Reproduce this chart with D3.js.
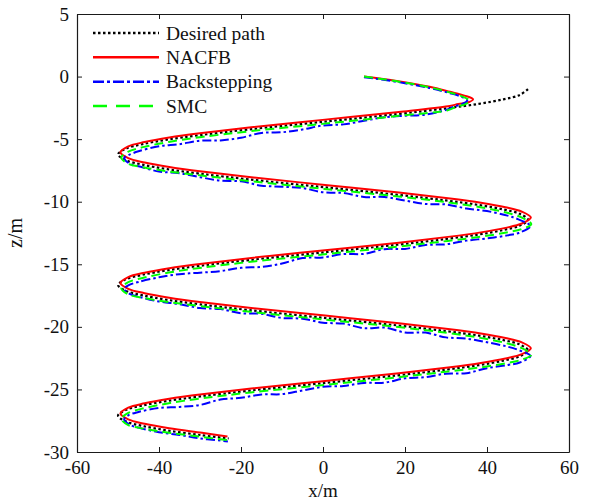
<!DOCTYPE html>
<html>
<head>
<meta charset="utf-8">
<script src="https://cdn.jsdelivr.net/npm/d3@7"></script>
<style>
  html, body { margin: 0; padding: 0; background: #fff; }
  svg { display: block; font-family: "Liberation Serif", "Times New Roman", serif; }
</style>
</head>
<body>
<svg id="chart" width="590" height="502"></svg>
<script>
// Axis ticks
const xTicks = [-60, -40, -20, 0, 20, 40, 60];
const zTicks = [5, 0, -5, -10, -15, -20, -25, -30];

// Trajectories in the x-z plane, [x, z] in metres
const desiredPath = [
  [50,-1.00],[48,-1.47],[44,-1.82],[38,-2.18],[30,-2.54],[18,-3.00],[0,-3.61],[-18,-4.22],[-30,-4.68],[-38,-5.04],[-44,-5.40],[-48,-5.75],[-50,-6.22],
  [-48,-6.69],[-44,-7.04],[-38,-7.40],[-30,-7.76],[-18,-8.22],[0,-8.83],[18,-9.44],[30,-9.90],[38,-10.26],[44,-10.62],[48,-10.97],[50,-11.44],
  [48,-11.91],[44,-12.26],[38,-12.62],[30,-12.98],[18,-13.44],[0,-14.05],[-18,-14.66],[-30,-15.12],[-38,-15.48],[-44,-15.84],[-48,-16.19],[-50,-16.66],
  [-48,-17.13],[-44,-17.48],[-38,-17.84],[-30,-18.20],[-18,-18.66],[0,-19.27],[18,-19.88],[30,-20.34],[38,-20.70],[44,-21.06],[48,-21.41],[50,-21.88],
  [48,-22.35],[44,-22.70],[38,-23.06],[30,-23.42],[18,-23.88],[0,-24.49],[-18,-25.10],[-30,-25.56],[-38,-25.92],[-44,-26.28],[-48,-26.63],[-50,-27.10],
  [-48,-27.57],[-44,-27.92],[-38,-28.28],[-30,-28.64],[-23,-28.92]
];

const nacfbPath = [
  [10,0.00],[18,-0.35],[26,-0.82],[31,-1.22],[34.5,-1.52],[36.6,-1.82],[35.5,-2.05],[33,-2.20],
  [30.5,-2.37],[18.5,-2.83],[0.5,-3.44],[-17.5,-4.05],[-29.5,-4.51],[-37.5,-4.87],[-43.5,-5.23],[-47.5,-5.58],[-49.4,-6.05],
  [-47.5,-6.52],[-43.5,-6.87],[-37.5,-7.23],[-29.5,-7.59],[-17.5,-8.05],[0.5,-8.66],[18.5,-9.27],[30.5,-9.73],[38.5,-10.09],[44.5,-10.45],[48.5,-10.80],[50.7,-11.27],
  [48.5,-11.74],[44.5,-12.09],[38.5,-12.45],[30.5,-12.81],[18.5,-13.27],[0.5,-13.88],[-17.5,-14.49],[-29.5,-14.95],[-37.5,-15.31],[-43.5,-15.67],[-47.5,-16.02],[-49.4,-16.49],
  [-47.5,-16.96],[-43.5,-17.31],[-37.5,-17.67],[-29.5,-18.03],[-17.5,-18.49],[0.5,-19.10],[18.5,-19.71],[30.5,-20.17],[38.5,-20.53],[44.5,-20.89],[48.5,-21.24],[50.7,-21.71],
  [48.5,-22.18],[44.5,-22.53],[38.5,-22.89],[30.5,-23.25],[18.5,-23.71],[0.5,-24.32],[-17.5,-24.93],[-29.5,-25.39],[-37.5,-25.75],[-43.5,-26.11],[-47.5,-26.46],[-49.4,-26.93],
  [-47.5,-27.40],[-43.5,-27.75],[-37.5,-28.11],[-29.5,-28.47],[-23.3,-28.76]
];

const backsteppingPath = [
  [10,-0.05],[18,-0.42],[26,-0.92],[31,-1.33],[34,-1.65],[35.2,-1.92],[34,-2.18],[32,-2.40],
  [30,-2.66],[25,-3.04],[20,-3.13],[15,-3.25],[10,-3.53],[5,-3.82],[0,-3.91],[-5,-4.23],[-10,-4.45],[-15,-4.50],[-20,-4.89],[-25,-5.10],[-30,-5.13],[-35,-5.40],[-40,-5.57],[-45,-5.97],[-47.5,-6.29],[-48.5,-6.52],
  [-47,-7.00],[-45,-7.17],[-40,-7.59],[-35,-7.72],[-30,-8.04],[-25,-8.31],[-20,-8.37],[-15,-8.72],[-10,-8.80],[-5,-8.91],[0,-9.25],[5,-9.30],[10,-9.62],[15,-9.62],[20,-9.91],[25,-10.18],[30,-10.22],[35,-10.54],[40,-10.75],[45,-11.11],[47.5,-11.39],[50.6,-11.94],
  [48,-12.46],[45,-12.69],[40,-12.93],[35,-13.11],[30,-13.40],[25,-13.46],[20,-13.77],[15,-13.79],[10,-14.17],[5,-14.18],[0,-14.45],[-5,-14.50],[-10,-14.94],[-15,-15.21],[-20,-15.28],[-25,-15.54],[-30,-15.67],[-35,-15.79],[-40,-16.04],[-45,-16.41],[-47.5,-16.68],[-48.5,-16.96],
  [-47,-17.39],[-45,-17.59],[-40,-17.98],[-35,-18.18],[-30,-18.50],[-25,-18.58],[-20,-18.91],[-15,-18.96],[-10,-19.29],[-5,-19.35],[0,-19.67],[5,-19.74],[10,-20.11],[15,-20.06],[20,-20.45],[25,-20.46],[30,-20.84],[35,-20.94],[40,-21.23],[45,-21.58],[47.5,-21.83],[50.6,-22.33],
  [48,-22.85],[45,-23.05],[40,-23.30],[35,-23.70],[30,-23.74],[25,-24.02],[20,-24.11],[15,-24.46],[10,-24.48],[5,-24.72],[0,-24.79],[-5,-25.08],[-10,-25.38],[-15,-25.40],[-20,-25.67],[-25,-25.81],[-30,-26.24],[-35,-26.40],[-40,-26.48],[-45,-26.80],[-47.5,-27.07],[-48.5,-27.40],
  [-47,-27.83],[-45,-28.05],[-40,-28.42],[-35,-28.64],[-30,-28.92],[-25,-29.09],[-23.2,-29.17]
];

const smcPath = [
  [10,0.00],[18,-0.38],[26,-0.86],[31,-1.28],[34.2,-1.62],[35.8,-1.95],[34.6,-2.22],[32.5,-2.42],
  [30.4,-2.69],[18.4,-3.14],[0.4,-3.76],[-17.6,-4.36],[-29.6,-4.83],[-37.6,-5.22],[-43.6,-5.62],[-47.6,-6.01],[-49.2,-6.47],
  [-47.6,-6.95],[-43.6,-7.26],[-37.6,-7.58],[-29.6,-7.91],[-17.6,-8.36],[0.4,-8.98],[18.4,-9.58],[30.4,-10.05],[38.4,-10.44],[44.4,-10.84],[48.4,-11.25],[50.8,-11.79],
  [48.4,-12.19],[44.4,-12.48],[38.4,-12.80],[30.4,-13.13],[18.4,-13.58],[0.4,-14.20],[-17.6,-14.80],[-29.6,-15.27],[-37.6,-15.66],[-43.6,-16.06],[-47.6,-16.45],[-49.2,-16.91],
  [-47.6,-17.39],[-43.6,-17.70],[-37.6,-18.02],[-29.6,-18.35],[-17.6,-18.80],[0.4,-19.42],[18.4,-20.02],[30.4,-20.49],[38.4,-20.88],[44.4,-21.28],[48.4,-21.69],[50.8,-22.23],
  [48.4,-22.63],[44.4,-22.92],[38.4,-23.24],[30.4,-23.57],[18.4,-24.02],[0.4,-24.64],[-17.6,-25.24],[-29.6,-25.71],[-37.6,-26.10],[-43.6,-26.50],[-47.6,-26.89],[-49.2,-27.35],
  [-47.6,-27.83],[-43.6,-28.14],[-37.6,-28.46],[-29.6,-28.79],[-23.2,-29.06]
];

const seriesNames = ["Desired path", "NACFB", "Backstepping", "SMC"];

// Plot geometry
const svg = d3.select("#chart");
const plotLeft = 77, plotRight = 569, plotTop = 14, plotBottom = 452;
const x = d3.scaleLinear().domain([-60, 60]).range([plotLeft, plotRight]);
const y = d3.scaleLinear().domain([-30, 5]).range([plotBottom, plotTop]);

const styles = [
  { data: desiredPath,      color: "#000000", dash: "2.5,2.5",   width: 2.2 },
  { data: nacfbPath,        color: "#ff0000", dash: null,        width: 2 },
  { data: backsteppingPath, color: "#0000ff", dash: "9,3,2.5,3", width: 2 },
  { data: smcPath,          color: "#00ff00", dash: "9,5",       width: 2 }
];

const line = d3.line()
  .x(d => x(d[0]))
  .y(d => y(d[1]))
  .curve(d3.curveCatmullRom.alpha(0.5));

svg.append("clipPath").attr("id", "clip")
  .append("rect").attr("x", plotLeft).attr("y", plotTop)
  .attr("width", plotRight - plotLeft).attr("height", plotBottom - plotTop);

const lines = svg.append("g").attr("clip-path", "url(#clip)");
styles.forEach(s => {
  lines.append("path")
    .datum(s.data)
    .attr("d", line)
    .attr("fill", "none")
    .attr("stroke", s.color)
    .attr("stroke-width", s.width)
    .attr("stroke-dasharray", s.dash)
    .attr("stroke-linejoin", "round");
});

// Axes with inward ticks on all four sides
const fmt = d => String(d);
const axisColor = "#1a1a1a";

const gBottom = svg.append("g").attr("transform", `translate(0,${plotBottom})`)
  .call(d3.axisBottom(x).tickValues(xTicks).tickSizeInner(-5).tickSizeOuter(0).tickPadding(9).tickFormat(fmt));
const gTop = svg.append("g").attr("transform", `translate(0,${plotTop})`)
  .call(d3.axisTop(x).tickValues(xTicks).tickSizeInner(-5).tickSizeOuter(0).tickFormat(""));
const gLeft = svg.append("g").attr("transform", `translate(${plotLeft},0)`)
  .call(d3.axisLeft(y).tickValues(zTicks).tickSizeInner(-5).tickSizeOuter(0).tickPadding(8).tickFormat(fmt));
const gRight = svg.append("g").attr("transform", `translate(${plotRight},0)`)
  .call(d3.axisRight(y).tickValues(zTicks).tickSizeInner(-5).tickSizeOuter(0).tickFormat(""));

[gBottom, gTop, gLeft, gRight].forEach(g => {
  g.select(".domain").attr("stroke", axisColor).attr("stroke-width", 1.2);
  g.selectAll(".tick line").attr("stroke", axisColor).attr("stroke-width", 1);
  g.selectAll(".tick text").attr("fill", "#111").attr("font-size", 19)
    .attr("font-family", "Liberation Serif, Times New Roman, serif");
});

// Axis titles
svg.append("text")
  .attr("x", (plotLeft + plotRight) / 2).attr("y", 497)
  .attr("text-anchor", "middle").attr("font-size", 19).attr("fill", "#111")
  .text("x/m");
svg.append("text")
  .attr("transform", `translate(22,${(plotTop + plotBottom) / 2}) rotate(-90)`)
  .attr("text-anchor", "middle").attr("font-size", 20).attr("fill", "#111")
  .text("z/m");

// Legend (no frame)
const legend = svg.append("g");
const legendY = d3.scalePoint().domain(seriesNames).range([33, 106]);
seriesNames.forEach((name, i) => {
  const s = styles[i];
  const yy = legendY(name);
  legend.append("line")
    .attr("x1", 93).attr("x2", 159).attr("y1", yy).attr("y2", yy)
    .attr("stroke", s.color).attr("stroke-width", 2.5)
    .attr("stroke-dasharray", i === 3 ? "14,9" : (i === 2 ? "11,3,3,3" : s.dash));
  legend.append("text")
    .attr("x", 166).attr("y", yy + 6.5)
    .attr("font-size", 19.5).attr("fill", "#111")
    .text(name);
});
</script>
</body>
</html>
